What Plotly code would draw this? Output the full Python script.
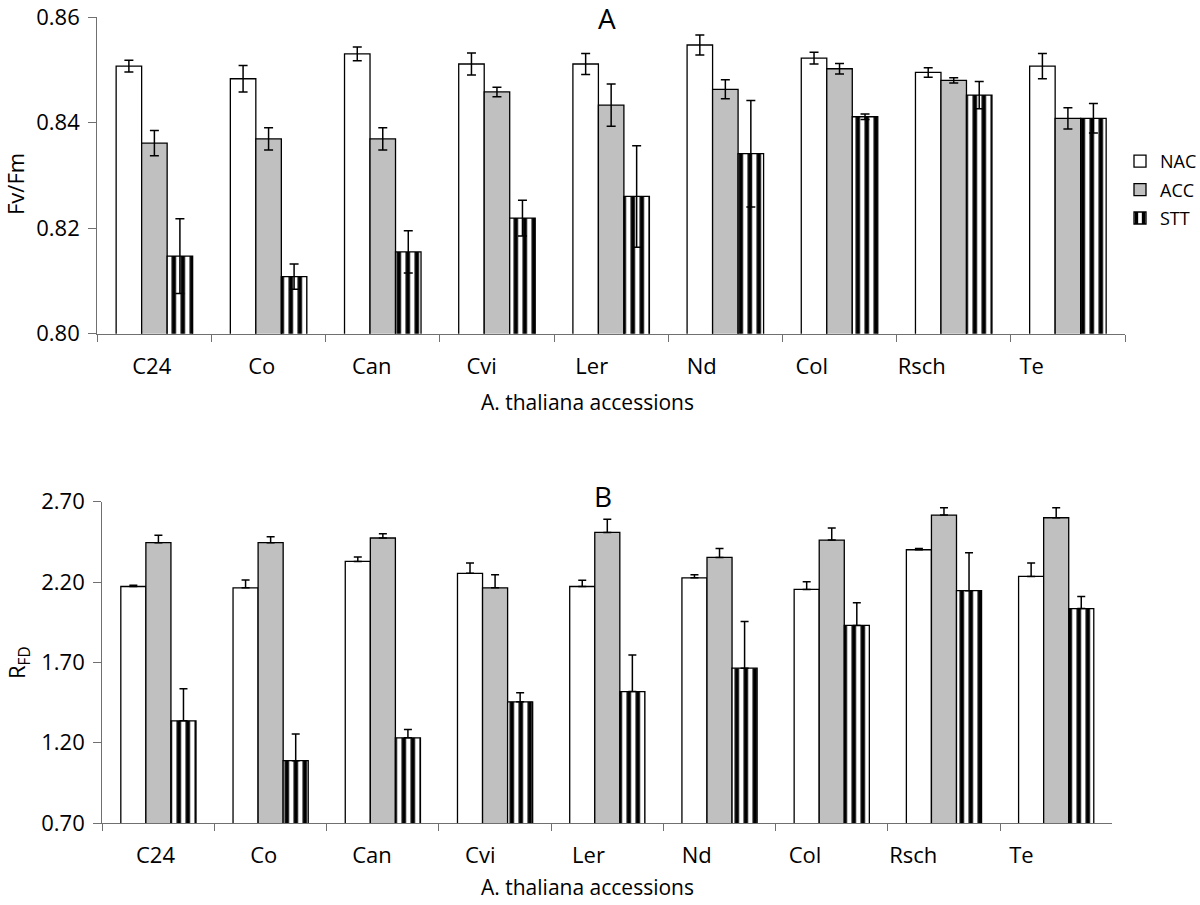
import plotly.graph_objects as go

W, H = 1200, 905

categories = ["C24", "Co", "Can", "Cvi", "Ler", "Nd", "Col", "Rsch", "Te"]
series_names = ["NAC", "ACC", "STT"]

# Panel A: Fv/Fm
nac_a = [0.8507, 0.8483, 0.8530, 0.8511, 0.8511, 0.8547, 0.8522, 0.8495, 0.8507]
nac_a_err = [0.0011, 0.0025, 0.0013, 0.0021, 0.0020, 0.0019, 0.0011, 0.0009, 0.0024]
acc_a = [0.8361, 0.8369, 0.8369, 0.8458, 0.8433, 0.8463, 0.8502, 0.8480, 0.8408]
acc_a_err = [0.0024, 0.0021, 0.0021, 0.0009, 0.0040, 0.0018, 0.0010, 0.0005, 0.0020]
stt_a = [0.8147, 0.8108, 0.8155, 0.8219, 0.8260, 0.8341, 0.8411, 0.8452, 0.8408]
stt_a_err = [0.0071, 0.0024, 0.0040, 0.0034, 0.0096, 0.0101, 0.0005, 0.0026, 0.0028]

# Panel B: RFD
nac_b = [2.172, 2.164, 2.328, 2.254, 2.172, 2.226, 2.154, 2.401, 2.235]
nac_b_err = [0.008, 0.048, 0.027, 0.064, 0.039, 0.019, 0.048, 0.008, 0.083]
acc_b = [2.445, 2.445, 2.474, 2.164, 2.509, 2.353, 2.461, 2.617, 2.600]
acc_b_err = [0.046, 0.037, 0.027, 0.081, 0.081, 0.056, 0.075, 0.046, 0.062]
stt_b = [1.336, 1.088, 1.230, 1.454, 1.518, 1.664, 1.930, 2.146, 2.035]
stt_b_err = [0.199, 0.166, 0.052, 0.056, 0.228, 0.291, 0.141, 0.237, 0.075]

ticks_a = [0.80, 0.82, 0.84, 0.86]
ticks_b = [0.70, 1.20, 1.70, 2.20, 2.70]

FONT = "Open Sans"
AX = "#707070"
TICK_SIZE = 22


def px_x(p):
    return p / W


def px_y(p):
    return 1 - p / H


styles = {
    "NAC": dict(marker=dict(color="white", line=dict(color="black", width=1.3))),
    "ACC": dict(marker=dict(color="#c0c0c0", line=dict(color="black", width=1.3))),
    "STT": dict(marker=dict(color="white", line=dict(color="black", width=1.3),
                            pattern=dict(shape="|", fgcolor="black", bgcolor="white",
                                         size=9, solidity=0.5, fillmode="replace"))),
}

fig = go.Figure()

vals_a = {"NAC": (nac_a, nac_a_err), "ACC": (acc_a, acc_a_err), "STT": (stt_a, stt_a_err)}
vals_b = {"NAC": (nac_b, nac_b_err), "ACC": (acc_b, acc_b_err), "STT": (stt_b, stt_b_err)}

for name in series_names:
    v, e = vals_a[name]
    fig.add_trace(go.Bar(
        x=categories, y=v, name=name, xaxis="x", yaxis="y",
        error_y=dict(type="data", array=e, symmetric=True, color="black",
                     thickness=1.5, width=4.5),
        legendgroup=name, showlegend=True, **styles[name]))

for name in series_names:
    v, e = vals_b[name]
    fig.add_trace(go.Bar(
        x=categories, y=v, name=name, xaxis="x2", yaxis="y2",
        error_y=dict(type="data", array=e, arrayminus=[0] * len(e), symmetric=False,
                     color="black", thickness=1.5, width=4),
        legendgroup=name, showlegend=False, **styles[name]))

# invisible carriers so the label-only axes get drawn
idx = list(range(len(categories)))
fig.add_trace(go.Scatter(x=idx, y=nac_a, xaxis="x3", yaxis="y", mode="markers",
                         marker=dict(opacity=0), hoverinfo="skip", showlegend=False))
fig.add_trace(go.Scatter(x=idx, y=nac_b, xaxis="x4", yaxis="y2", mode="markers",
                         marker=dict(opacity=0), hoverinfo="skip", showlegend=False))

# plot-area geometry (pixels)
a_left, a_right, a_top, a_bot = 97.3, 1125.0, 17.0, 333.7
b_left, b_right, b_top, b_bot = 102.3, 1112.3, 501.7, 823.0

cat_axis = dict(type="category", range=[-0.5, len(categories) - 0.5],
                showline=True, linecolor=AX, linewidth=1.2,
                ticks="outside", tickson="boundaries", ticklen=7, tickcolor=AX,
                tickwidth=1.2, showticklabels=False, showgrid=False, zeroline=False,
                fixedrange=True, automargin=False)

lab_common = dict(type="linear", tickvals=idx, ticktext=categories,
                  showline=False, ticks="", showgrid=False, zeroline=False,
                  tickfont=dict(family=FONT, size=TICK_SIZE, color="black"),
                  ticklabelstandoff=17, side="bottom", automargin=False)

y_common = dict(tickformat=".2f", showline=True, linecolor=AX, linewidth=1.2,
                ticks="outside", ticklen=8, tickcolor=AX, tickwidth=1.2,
                showgrid=False, zeroline=False, ticklabelstandoff=4, automargin=False,
                tickfont=dict(family=FONT, size=TICK_SIZE, color="black"))

fig.update_layout(
    width=W, height=H,
    margin=dict(l=0, r=0, t=0, b=0, autoexpand=False),
    paper_bgcolor="white", plot_bgcolor="white",
    barmode="group", bargap=0.33, bargroupgap=0,
    font=dict(family=FONT, size=20, color="black"),
    xaxis=dict(domain=[px_x(a_left), px_x(a_right)], anchor="y", **cat_axis),
    yaxis=dict(domain=[px_y(a_bot), px_y(a_top)], anchor="x", range=[0.80, 0.86],
               tickvals=ticks_a, **y_common),
    xaxis2=dict(domain=[px_x(b_left), px_x(b_right)], anchor="y2", **cat_axis),
    yaxis2=dict(domain=[px_y(b_bot), px_y(b_top)], anchor="x2", range=[0.70, 2.70],
                tickvals=ticks_b, **y_common),
    xaxis3=dict(overlaying="x", anchor="y", range=[-0.4945, 8.848], **lab_common),
    xaxis4=dict(overlaying="x2", anchor="y2", range=[-0.4915, 8.839], **lab_common),
    legend=dict(x=px_x(1120), y=px_y(143), xanchor="left", yanchor="top",
                font=dict(family=FONT, size=18, color="black"),
                bgcolor="rgba(0,0,0,0)", tracegroupgap=2, itemwidth=30),
    showlegend=True,
)

ann = [
    dict(text="A", x=px_x(607), y=px_y(18), size=28),
    dict(text="B", x=px_x(603), y=px_y(496), size=28),
    dict(text="A. thaliana accessions", x=px_x(587), y=px_y(402), size=21),
    dict(text="A. thaliana accessions", x=px_x(587), y=px_y(887), size=21),
    dict(text="Fv/Fm", x=px_x(15), y=px_y(184), textangle=-90, size=22),
    dict(text="R<sub>FD</sub>", x=px_x(18), y=px_y(663), textangle=-90, size=22),
]
for a in ann:
    sz = a.pop("size")
    fig.add_annotation(xref="paper", yref="paper", showarrow=False,
                       xanchor="center", yanchor="middle",
                       font=dict(family=FONT, color="black", size=sz), **a)

fig.write_html(
    "out.html",
    config={"displayModeBar": False},
    post_script="document.body.style.margin='0';document.body.style.overflow='hidden';",
)
